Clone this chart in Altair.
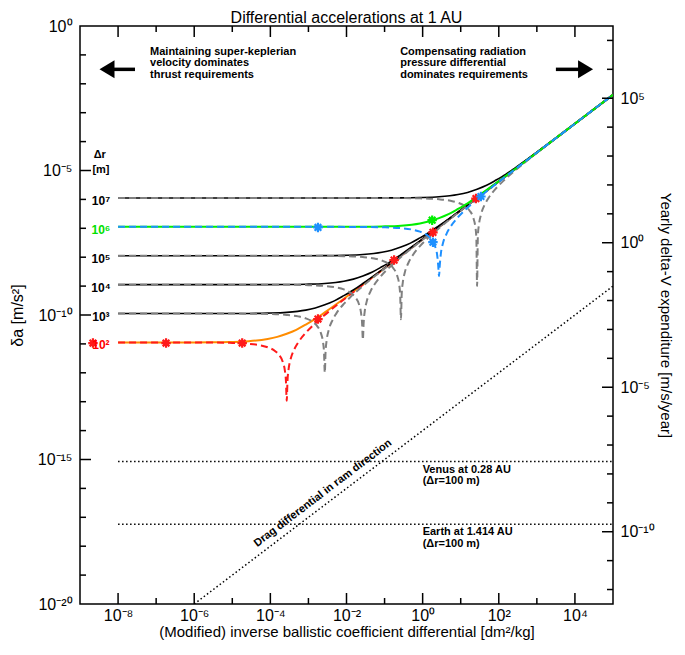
import altair as alt
import pandas as pd

FONT = "Liberation Sans"
W, H = 533, 578

# ---------------- axes / scales ----------------
X_DOMAIN = [1e-9, 1e5]
Y_DOMAIN = [1e-20, 1e0]
SECONDS_PER_YEAR = 3.156e7
Y2_DOMAIN = [1e-20 * SECONDS_PER_YEAR, 1e0 * SECONDS_PER_YEAR]

X_LABEL_EXP = [-8, -6, -4, -2, 0, 2, 4]
X_LABELS = ["10⁻⁸", "10⁻⁶", "10⁻⁴", "10⁻²", "10⁰", "10²", "10⁴"]
X_MINOR_EXP = [-7, -5, -3, -1, 1, 3]

Y_LABEL_EXP = [0, -5, -10, -15, -20]
Y_LABELS = ["10⁰", "10⁻⁵", "10⁻¹⁰", "10⁻¹⁵", "10⁻²⁰"]
Y_MAJOR_EXP = [-5, -10, -15]
Y_MINOR_EXP = [-1, -2, -3, -4, -6, -7, -8, -9, -11, -12, -13, -14, -16, -17, -18, -19]

Y2_LABEL_EXP = [5, 0, -5, -10]
Y2_LABELS = ["10⁵", "10⁰", "10⁻⁵", "10⁻¹⁰"]
Y2_MINOR_EXP = [7, 6, 4, 3, 2, 1, -1, -2, -3, -4, -6, -7, -8, -9, -11, -12]

# ---------------- curves (log10 values) ----------------
# Delta r = 1e7 m
SUM_7_LX = [-8, -1.57, -0.57, -0.07, 0.43, 0.93, 1.18, 1.43, 1.68, 1.93, 2.18, 2.43, 2.93, 3.43, 4.43, 5.0]
SUM_7_LY = [-5.95, -5.95, -5.946, -5.936, -5.909, -5.831, -5.758, -5.649, -5.512, -5.331, -5.135, -4.909, -4.437, -3.946, -2.95, -2.38]
DIF_7_LX = [-8, -1.57, -0.57, -0.07, 0.43, 0.73, 0.93, 1.13, 1.23, 1.33, 1.38, 1.41, 1.43, 1.45, 1.48, 1.53, 1.63, 1.73, 1.93, 2.13, 2.43, 2.93, 3.43, 4.43, 5.0]
DIF_7_LY = [-5.95, -5.95, -5.954, -5.964, -5.996, -6.047, -6.115, -6.252, -6.383, -6.636, -6.913, -7.30, -9.0, -7.28, -6.863, -6.537, -6.183, -5.952, -5.615, -5.347, -4.996, -4.464, -3.954, -2.95, -2.38]
# Delta r = 1e6 m
SUM_6_LX = [-8, -2.57, -1.57, -1.07, -0.57, -0.07, 0.18, 0.43, 0.68, 0.93, 1.18, 1.43, 1.93, 2.43, 3.43, 5.0]
SUM_6_LY = [-6.95, -6.95, -6.946, -6.936, -6.909, -6.831, -6.758, -6.649, -6.512, -6.331, -6.135, -5.909, -5.437, -4.946, -3.95, -2.38]
DIF_6_LX = [-8, -2.57, -1.57, -1.07, -0.57, -0.27, -0.07, 0.13, 0.23, 0.33, 0.38, 0.41, 0.43, 0.45, 0.48, 0.53, 0.63, 0.73, 0.93, 1.13, 1.43, 1.93, 2.43, 3.43, 5.0]
DIF_6_LY = [-6.95, -6.95, -6.954, -6.964, -6.996, -7.047, -7.115, -7.252, -7.383, -7.636, -7.913, -8.30, -8.66, -8.28, -7.863, -7.537, -7.183, -6.952, -6.615, -6.347, -5.996, -5.464, -4.954, -3.95, -2.38]
# Delta r = 1e5 m
SUM_5_LX = [-8, -3.57, -2.57, -2.07, -1.57, -1.07, -0.82, -0.57, -0.32, -0.07, 0.18, 0.43, 0.93, 1.43, 2.43, 5.0]
SUM_5_LY = [-7.95, -7.95, -7.946, -7.936, -7.909, -7.831, -7.758, -7.649, -7.512, -7.331, -7.135, -6.909, -6.437, -5.946, -4.95, -2.38]
DIF_5_LX = [-8, -3.57, -2.57, -2.07, -1.57, -1.27, -1.07, -0.87, -0.77, -0.67, -0.62, -0.59, -0.57, -0.55, -0.52, -0.47, -0.37, -0.27, -0.07, 0.13, 0.43, 0.93, 1.43, 2.43, 5.0]
DIF_5_LY = [-7.95, -7.95, -7.954, -7.964, -7.996, -8.047, -8.115, -8.252, -8.383, -8.636, -8.913, -9.30, -10.15, -9.28, -8.863, -8.537, -8.183, -7.952, -7.615, -7.347, -6.996, -6.464, -5.954, -4.95, -2.38]
# Delta r = 1e4 m
SUM_4_LX = [-8, -4.57, -3.57, -3.07, -2.57, -2.07, -1.82, -1.57, -1.32, -1.07, -0.82, -0.57, -0.07, 0.43, 1.43, 5.0]
SUM_4_LY = [-8.95, -8.95, -8.946, -8.936, -8.909, -8.831, -8.758, -8.649, -8.512, -8.331, -8.135, -7.909, -7.437, -6.946, -5.95, -2.38]
DIF_4_LX = [-8, -4.57, -3.57, -3.07, -2.57, -2.27, -2.07, -1.87, -1.77, -1.67, -1.62, -1.59, -1.57, -1.55, -1.52, -1.47, -1.37, -1.27, -1.07, -0.87, -0.57, -0.07, 0.43, 1.43, 5.0]
DIF_4_LY = [-8.95, -8.95, -8.954, -8.964, -8.996, -9.047, -9.115, -9.252, -9.383, -9.636, -9.913, -10.30, -10.86, -10.28, -9.863, -9.537, -9.183, -8.952, -8.615, -8.347, -7.996, -7.464, -6.954, -5.95, -2.38]
# Delta r = 1e3 m
SUM_3_LX = [-8, -5.57, -4.57, -4.07, -3.57, -3.07, -2.82, -2.57, -2.32, -2.07, -1.82, -1.57, -1.07, -0.57, 0.43, 5.0]
SUM_3_LY = [-9.95, -9.95, -9.946, -9.936, -9.909, -9.831, -9.758, -9.649, -9.512, -9.331, -9.135, -8.909, -8.437, -7.946, -6.95, -2.38]
DIF_3_LX = [-8, -5.57, -4.57, -4.07, -3.57, -3.27, -3.07, -2.87, -2.77, -2.67, -2.62, -2.59, -2.57, -2.55, -2.52, -2.47, -2.37, -2.27, -2.07, -1.87, -1.57, -1.07, -0.57, 0.43, 5.0]
DIF_3_LY = [-9.95, -9.95, -9.954, -9.964, -9.996, -10.047, -10.115, -10.252, -10.383, -10.636, -10.913, -11.30, -12.0, -11.28, -10.863, -10.537, -10.183, -9.952, -9.615, -9.347, -8.996, -8.464, -7.954, -6.95, -2.38]
# Delta r = 1e2 m
SUM_2_LX = [-8, -6.57, -5.57, -5.07, -4.57, -4.07, -3.82, -3.57, -3.32, -3.07, -2.82, -2.57, -2.07, -1.57, -0.57, 5.0]
SUM_2_LY = [-10.95, -10.95, -10.946, -10.936, -10.909, -10.831, -10.758, -10.649, -10.512, -10.331, -10.135, -9.909, -9.437, -8.946, -7.95, -2.38]
DIF_2_LX = [-8, -6.57, -5.57, -5.07, -4.57, -4.27, -4.07, -3.87, -3.77, -3.67, -3.62, -3.59, -3.57, -3.55, -3.52, -3.47, -3.37, -3.27, -3.07, -2.87, -2.57, -2.07, -1.57, -0.57, 5.0]
DIF_2_LY = [-10.95, -10.95, -10.954, -10.964, -10.996, -11.047, -11.115, -11.252, -11.383, -11.636, -11.913, -12.30, -12.97, -12.28, -11.863, -11.537, -11.183, -10.952, -10.615, -10.347, -9.996, -9.464, -8.954, -7.95, -2.38]

# reference lines (log10)
DRAG_LX = [-6.0, 5.0]
DRAG_LY = [-20.0, -9.0]
VENUS_LX = [-8.0, 5.0]
VENUS_LY = [-15.07, -15.07]
EARTH_LX = [-8.0, 5.0]
EARTH_LY = [-17.24, -17.24]

# star markers (log10)
STAR_RED_LX = [-8.66, -6.74, -4.74, -2.75, -0.75, 0.27, 1.40]
STAR_RED_LY = [-10.97, -10.97, -10.97, -10.14, -8.10, -7.14, -5.97]
STAR_BLUE_LX = [-2.75, 0.27, 1.53]
STAR_BLUE_LY = [-6.97, -7.48, -5.90]
STAR_GREEN_LX = [0.25]
STAR_GREEN_LY = [-6.72]

# level labels
LEVEL_TEXT = ["10⁷", "10⁶", "10⁵", "10⁴", "10³", "10²"]
LEVEL_LY = [-5.95, -6.95, -7.95, -8.95, -9.95, -10.95]
LEVEL_COLOR = ["black", "#00e000", "black", "black", "black", "red"]

GRAY = "#808080"
GREEN = "#00ee00"
BLUE = "#1e90ff"
ORANGE = "#ff8c00"
RED = "#ff1a1a"

xs = alt.Scale(type="log", domain=X_DOMAIN, nice=False)
ys = alt.Scale(type="log", domain=Y_DOMAIN, nice=False)
y2s = alt.Scale(type="log", domain=Y2_DOMAIN, nice=False)


def lab_expr(exps, labels):
    parts = [f"round(log(datum.value)/LN10) == {e} ? '{l}'" for e, l in zip(exps, labels)]
    return " : ".join(parts) + " : ''"


def vals(exps):
    return pd.DataFrame({"v": [10.0 ** e for e in exps]})


def curve(lx, ly, color, width, dash=None):
    df = pd.DataFrame({"x": [10.0 ** v for v in lx], "y": [10.0 ** v for v in ly]})
    kw = dict(color=color, strokeWidth=width, clip=True, interpolate="monotone")
    if dash:
        kw["strokeDash"] = dash
    return alt.Chart(df).mark_line(**kw).encode(
        x=alt.X("x:Q", scale=xs, axis=None), y=alt.Y("y:Q", scale=ys, axis=None))


common_axis = dict(ticks=False, domain=False, grid=False, labelFont=FONT, titleFont=FONT,
                   labelColor="black", titleColor="black", titleFontWeight="normal",
                   labelFlush=False, labelOverlap=False)

xaxis = alt.Axis(values=[10.0 ** e for e in X_LABEL_EXP], labelExpr=lab_expr(X_LABEL_EXP, X_LABELS),
                 title="(Modified) inverse ballistic coefficient differential [dm²/kg]",
                 labelFontSize=16, titleFontSize=15, labelPadding=3, titlePadding=1, **common_axis)
yaxis = alt.Axis(values=[10.0 ** e for e in Y_LABEL_EXP], labelExpr=lab_expr(Y_LABEL_EXP, Y_LABELS),
                 title="δa [m/s²]", labelFontSize=16, titleFontSize=16, labelPadding=8, titlePadding=12,
                 **common_axis)
y2axis = alt.Axis(values=[10.0 ** e for e in Y2_LABEL_EXP], labelExpr=lab_expr(Y2_LABEL_EXP, Y2_LABELS),
                  orient="right", title="Yearly delta-V expenditure [m/s/year]",
                  labelFontSize=16, titleFontSize=15, labelPadding=7, titlePadding=3, **common_axis)

MAJ, MIN, TW = 11, 6, 1.5

bottom_major = alt.Chart(vals(X_LABEL_EXP)).mark_rule(color="black", strokeWidth=TW).encode(
    x=alt.X("v:Q", scale=xs, axis=xaxis), y=alt.value(H), y2=alt.value(H - MAJ))
bottom_minor = alt.Chart(vals(X_MINOR_EXP)).mark_rule(color="black", strokeWidth=TW).encode(
    x=alt.X("v:Q", scale=xs, axis=None), y=alt.value(H), y2=alt.value(H - MIN))
top_major = alt.Chart(vals(X_LABEL_EXP)).mark_rule(color="black", strokeWidth=TW).encode(
    x=alt.X("v:Q", scale=xs, axis=None), y=alt.value(0), y2=alt.value(MAJ))
top_minor = alt.Chart(vals(X_MINOR_EXP)).mark_rule(color="black", strokeWidth=TW).encode(
    x=alt.X("v:Q", scale=xs, axis=None), y=alt.value(0), y2=alt.value(MIN))
left_labels = alt.Chart(vals(Y_LABEL_EXP)).mark_rule(opacity=0).encode(
    y=alt.Y("v:Q", scale=ys, axis=yaxis), x=alt.value(0), x2=alt.value(1))
left_major = alt.Chart(vals(Y_MAJOR_EXP)).mark_rule(color="black", strokeWidth=TW).encode(
    y=alt.Y("v:Q", scale=ys, axis=None), x=alt.value(0), x2=alt.value(MAJ))
left_minor = alt.Chart(vals(Y_MINOR_EXP)).mark_rule(color="black", strokeWidth=TW).encode(
    y=alt.Y("v:Q", scale=ys, axis=None), x=alt.value(0), x2=alt.value(MIN))
right_major = alt.Chart(vals(Y2_LABEL_EXP)).mark_rule(color="black", strokeWidth=TW).encode(
    y=alt.Y("v:Q", scale=y2s, axis=y2axis), x=alt.value(W), x2=alt.value(W - MAJ))
right_minor = alt.Chart(vals(Y2_MINOR_EXP)).mark_rule(color="black", strokeWidth=TW).encode(
    y=alt.Y("v:Q", scale=y2s, axis=None), x=alt.value(W), x2=alt.value(W - MIN))

DASH = [7, 4]
DOT = [1.5, 2.5]
layers = [
    curve(DRAG_LX, DRAG_LY, "black", 1.5, DOT),
    curve(VENUS_LX, VENUS_LY, "black", 1.5, DOT),
    curve(EARTH_LX, EARTH_LY, "black", 1.5, DOT),
    curve(SUM_2_LX, SUM_2_LY, ORANGE, 2),
    curve(DIF_2_LX, DIF_2_LY, RED, 2, DASH),
]
for slx, sly, dlx, dly in [(SUM_3_LX, SUM_3_LY, DIF_3_LX, DIF_3_LY),
                           (SUM_4_LX, SUM_4_LY, DIF_4_LX, DIF_4_LY),
                           (SUM_5_LX, SUM_5_LY, DIF_5_LX, DIF_5_LY),
                           (SUM_7_LX, SUM_7_LY, DIF_7_LX, DIF_7_LY)]:
    layers.append(curve(slx, sly, "black", 1.6))
    layers.append(curve(dlx, dly, GRAY, 2, DASH))
layers.append(curve(SUM_6_LX, SUM_6_LY, GREEN, 2))
layers.append(curve(DIF_6_LX, DIF_6_LY, BLUE, 2, DASH))

STAR = "M-1,0L1,0M0,-1L0,1M-0.7,-0.7L0.7,0.7M-0.7,0.7L0.7,-0.7"
star_rows = []
for lxs, lys, c in [(STAR_RED_LX, STAR_RED_LY, RED), (STAR_BLUE_LX, STAR_BLUE_LY, BLUE),
                    (STAR_GREEN_LX, STAR_GREEN_LY, GREEN)]:
    for a, b in zip(lxs, lys):
        star_rows.append({"x": 10.0 ** a, "y": 10.0 ** b, "c": c})
stars = alt.Chart(pd.DataFrame(star_rows)).mark_point(shape=STAR, size=90, filled=False, strokeWidth=2.2,
                                                      opacity=1, clip=True).encode(
    x=alt.X("x:Q", scale=xs, axis=None), y=alt.Y("y:Q", scale=ys, axis=None),
    color=alt.Color("c:N", scale=None))

lvl = pd.DataFrame({"t": LEVEL_TEXT, "x": [10.0 ** -8.45] * 6, "y": [10.0 ** v for v in LEVEL_LY],
                    "c": LEVEL_COLOR})
level_text = alt.Chart(lvl).mark_text(font=FONT, fontSize=12, fontWeight="bold", dy=3).encode(
    x=alt.X("x:Q", scale=xs, axis=None), y=alt.Y("y:Q", scale=ys, axis=None),
    text="t:N", color=alt.Color("c:N", scale=None))

hdr = pd.DataFrame({"t": ["Δr", "[m]"], "x": [10.0 ** -8.48, 10.0 ** -8.45], "y": [10.0 ** -4.45, 10.0 ** -4.97]})
hdr_text = alt.Chart(hdr).mark_text(font=FONT, fontSize=11, fontWeight="bold", color="black").encode(
    x=alt.X("x:Q", scale=xs, axis=None), y=alt.Y("y:Q", scale=ys, axis=None), text="t:N")

notes = pd.DataFrame({
    "t": ["Maintaining super-keplerian\nvelocity dominates\nthrust requirements",
          "Compensating radiation\npressure differential\ndominates requirements",
          "Venus at 0.28 AU\n(Δr=100 m)",
          "Earth at 1.414 AU\n(Δr=100 m)"],
    "x": [10.0 ** -7.16, 10.0 ** -0.59, 1.0, 1.0],
    "y": [10.0 ** -0.62, 10.0 ** -0.62, 10.0 ** VENUS_LY[0], 10.0 ** EARTH_LY[0]],
})
note_text = alt.Chart(notes).mark_text(font=FONT, fontSize=11, fontWeight="bold", align="left",
                                       baseline="top", lineBreak="\n", lineHeight=11.5, dy=2,
                                       color="black").encode(
    x=alt.X("x:Q", scale=xs, axis=None), y=alt.Y("y:Q", scale=ys, axis=None), text="t:N")

drag_lbl = pd.DataFrame({"t": ["Drag differential in ram direction"], "x": [10.0 ** -2.62], "y": [10.0 ** -16.17]})
drag_text = alt.Chart(drag_lbl).mark_text(font=FONT, fontSize=11, fontWeight="bold", angle=322.7,
                                          align="center", baseline="middle", color="black").encode(
    x=alt.X("x:Q", scale=xs, axis=None), y=alt.Y("y:Q", scale=ys, axis=None), text="t:N")

# arrows
shafts = pd.DataFrame({"x": [10.0 ** -8.16, 10.0 ** 3.50], "x2": [10.0 ** -7.555, 10.0 ** 4.13],
                       "y": [10.0 ** -1.5, 10.0 ** -1.5]})
arrow_shafts = alt.Chart(shafts).mark_rule(color="black", strokeWidth=3.5).encode(
    x=alt.X("x:Q", scale=xs, axis=None), x2="x2:Q", y=alt.Y("y:Q", scale=ys, axis=None))
head_l = alt.Chart(pd.DataFrame({"x": [10.0 ** -8.29], "y": [10.0 ** -1.5]})).mark_point(
    shape="M-1,0L1,-1.2L1,1.2Z", size=225, filled=True, color="black", opacity=1).encode(
    x=alt.X("x:Q", scale=xs, axis=None), y=alt.Y("y:Q", scale=ys, axis=None))
head_r = alt.Chart(pd.DataFrame({"x": [10.0 ** 4.28], "y": [10.0 ** -1.5]})).mark_point(
    shape="M1,0L-1,-1.2L-1,1.2Z", size=225, filled=True, color="black", opacity=1).encode(
    x=alt.X("x:Q", scale=xs, axis=None), y=alt.Y("y:Q", scale=ys, axis=None))

title = alt.Chart(pd.DataFrame({"t": ["Differential accelerations at 1 AU"]})).mark_text(
    font=FONT, fontSize=16, color="black", baseline="alphabetic", align="center").encode(
    text="t:N", x=alt.value(W / 2), y=alt.value(-3))

chart = alt.layer(
    bottom_major, left_labels, *layers, stars, level_text, hdr_text, note_text, drag_text,
    arrow_shafts, head_l, head_r,
    bottom_minor, top_major, top_minor, left_major, left_minor,
    right_major, right_minor, title,
).resolve_scale(y="independent").resolve_axis(x="independent", y="independent").properties(
    width=W, height=H,
    autosize=alt.AutoSizeParams(type="none"),
    padding={"left": 72, "top": 18, "right": 64, "bottom": 39},
).configure_view(stroke="black", strokeWidth=1.5)

chart.save("out.html", embed_options={"renderer": "svg", "actions": False})
